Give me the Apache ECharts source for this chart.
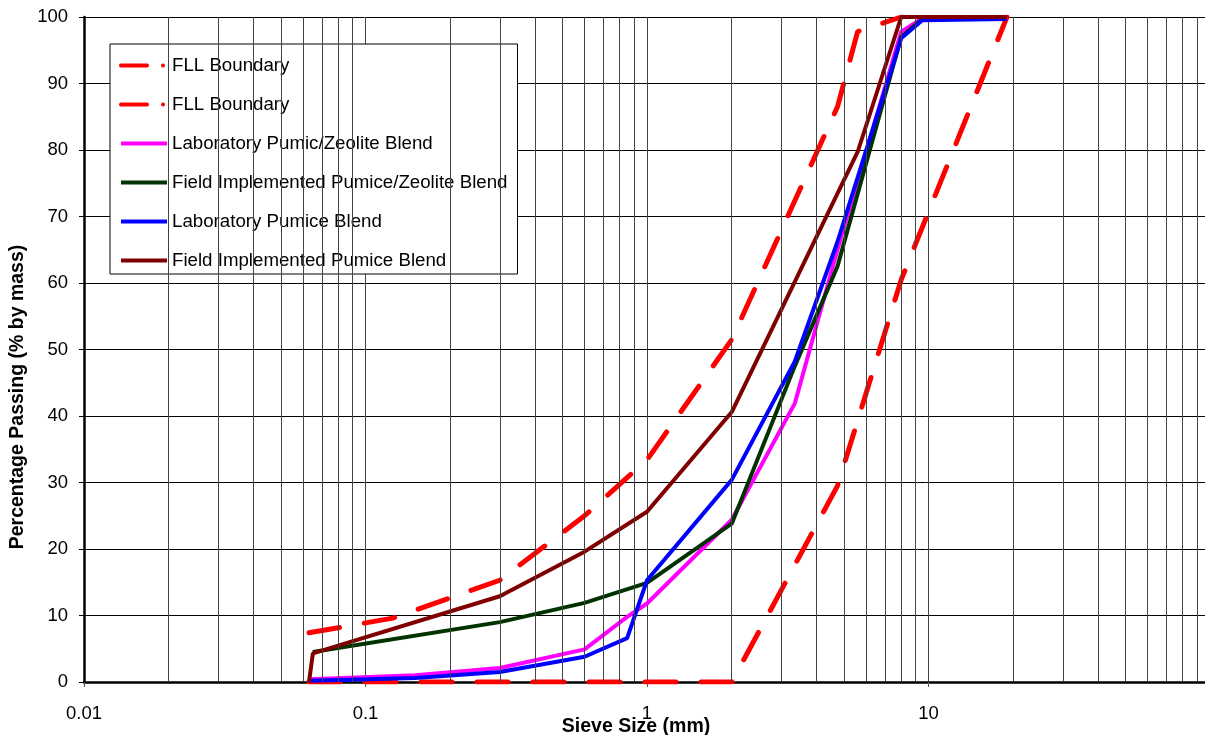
<!DOCTYPE html>
<html>
<head>
<meta charset="utf-8">
<script src="https://cdn.jsdelivr.net/npm/echarts@6/dist/echarts.min.js"></script>
<style>
  html, body { margin: 0; padding: 0; background: #fff; }
  #chart { width: 1205px; height: 735px; }
</style>
</head>
<body>
<div id="chart"></div>
<script>
// sieve size (mm) / percentage passing
const fllUpperSize = [0.063, 0.125, 0.3, 0.6, 1, 2, 4.75, 5.6, 8]
const fllUpperPass = [7.4, 9.6, 15.3, 25, 33.4, 51.5, 86.5, 97.8, 100]

const fllLowerSize = [0.063, 2, 4.75, 8, 19]
const fllLowerPass = [0, 0, 29.5, 60.5, 100]

const labZeoSize = [0.063, 0.15, 0.3, 0.6, 0.85, 1, 2, 3.35, 4.75, 8, 9.5, 19]
const labZeoPass = [0.4, 1.0, 2.1, 4.9, 9.8, 11.8, 24.4, 41.9, 65, 97.8, 99.8, 100]

const fieldZeoSize = [0.065, 0.3, 0.6, 1, 2, 3.35, 4.75, 8, 9.5, 19]
const fieldZeoPass = [4.5, 9.0, 11.9, 14.9, 23.8, 47.5, 62.5, 97, 99.7, 100]

const labPumSize = [0.063, 0.15, 0.3, 0.6, 0.85, 1, 2, 3.35, 4.75, 8, 9.5, 19]
const labPumPass = [0.2, 0.6, 1.5, 3.8, 6.6, 15.3, 30.4, 48.2, 66.2, 96.8, 99.5, 99.7]

const fieldPumSize = [0.063, 0.065, 0.3, 0.6, 1, 2, 5.6, 8, 19]
const fieldPumPass = [0, 4.3, 12.9, 19.6, 25.6, 40.6, 79.7, 100, 100]

const seriesNames = [
  'FLL Boundary',
  'FLL Boundary ',
  'Laboratory Pumic/Zeolite Blend',
  'Field Implemented Pumice/Zeolite Blend',
  'Laboratory Pumice Blend',
  'Field Implemented Pumice Blend'
]
const seriesColors = ['#ff0000', '#ff0000', '#ff00ff', '#003300', '#0000ff', '#800000']

// minor log grid lines (2..9 of each decade)
const decades = [0.01, 0.1, 1, 10]
const minorLines = []
decades.forEach(d => {
  for (let k = 2; k <= 9; k++) minorLines.push(+(d * k).toPrecision(3))
})

const font = 'Liberation Sans, Arial, sans-serif'

function pairs(xs, ys) {
  return xs.map((x, i) => [x, ys[i]])
}

function curve(i, data, dashed) {
  return {
    name: seriesNames[i],
    type: 'line',
    data: data,
    symbol: 'none',
    itemStyle: { color: seriesColors[i] },
    lineStyle: dashed
      ? { color: seriesColors[i], width: 5, type: [31, 25], cap: 'round' }
      : { color: seriesColors[i], width: 4 },
    z: dashed ? 3 : 4
  }
}

const chart = echarts.init(document.getElementById('chart'))

chart.setOption({
  animation: false,
  backgroundColor: '#fff',
  grid: {
    left: 84,
    top: 17,
    right: -5,
    bottom: 53,
    containLabel: false,
    outerBoundsMode: 'none'
  },
  legend: {
    left: 110,
    top: 44,
    orient: 'vertical',
    backgroundColor: '#fff',
    borderColor: '#000',
    borderWidth: 1,
    borderRadius: 0,
    padding: [12, 10, 4, 9],
    itemWidth: 46,
    itemHeight: 14,
    itemGap: 20,
    textStyle: { fontFamily: font, fontSize: 18.7, color: '#000' },
    formatter: n => n.trim(),
    data: seriesNames.map((n, i) => ({
      name: n,
      itemStyle: { opacity: 0 },
      lineStyle: i < 2
        ? { color: seriesColors[i], type: [26, 16, 0.01, 20], cap: 'round', width: 4 }
        : { color: seriesColors[i], width: 4 }
    }))
  },
  xAxis: {
    type: 'log',
    logBase: 10,
    min: 0.01,
    max: 100,
    name: 'Sieve Size (mm)',
    nameLocation: 'middle',
    nameGap: 35,
    nameMoveOverlap: false,
    nameTextStyle: {
      fontFamily: font, fontSize: 19.5, fontWeight: 'bold', color: '#000',
      padding: [0, 22, 0, 0]
    },
    axisLine: { onZero: false, lineStyle: { color: '#000', width: 2.5 } },
    axisTick: { show: true, length: 5, lineStyle: { color: '#555', width: 1 } },
    axisLabel: {
      fontFamily: font, fontSize: 18.5, color: '#000', margin: 22,
      formatter: v => (v >= 100 ? '' : String(v))
    },
    splitLine: { show: true, lineStyle: { color: '#444', width: 1 } }
  },
  yAxis: {
    type: 'value',
    min: 0,
    max: 100,
    interval: 10,
    name: 'Percentage Passing (% by mass)',
    nameLocation: 'middle',
    nameGap: 56,
    nameMoveOverlap: false,
    nameTextStyle: {
      fontFamily: font, fontSize: 19.5, fontWeight: 'bold', color: '#000',
      padding: [0, 95, 0, 0]
    },
    axisLine: { show: true, lineStyle: { color: '#000', width: 2.5 } },
    axisTick: { show: true, length: 5, lineStyle: { color: '#000', width: 1 } },
    axisLabel: { fontFamily: font, fontSize: 18.5, color: '#000', margin: 16 },
    splitLine: { show: true, lineStyle: { color: '#000', width: 1 } }
  },
  series: [
    {
      name: 'minor grid',
      type: 'line',
      data: [],
      silent: true,
      z: 1,
      markLine: {
        silent: true,
        symbol: 'none',
        label: { show: false },
        lineStyle: { color: '#444', width: 1, type: 'solid' },
        data: minorLines.map(v => ({ xAxis: v }))
      }
    },
    curve(0, pairs(fllUpperSize, fllUpperPass), true),
    curve(1, pairs(fllLowerSize, fllLowerPass), true),
    curve(2, pairs(labZeoSize, labZeoPass), false),
    curve(3, pairs(fieldZeoSize, fieldZeoPass), false),
    curve(4, pairs(labPumSize, labPumPass), false),
    curve(5, pairs(fieldPumSize, fieldPumPass), false)
  ]
})
</script>
</body>
</html>
